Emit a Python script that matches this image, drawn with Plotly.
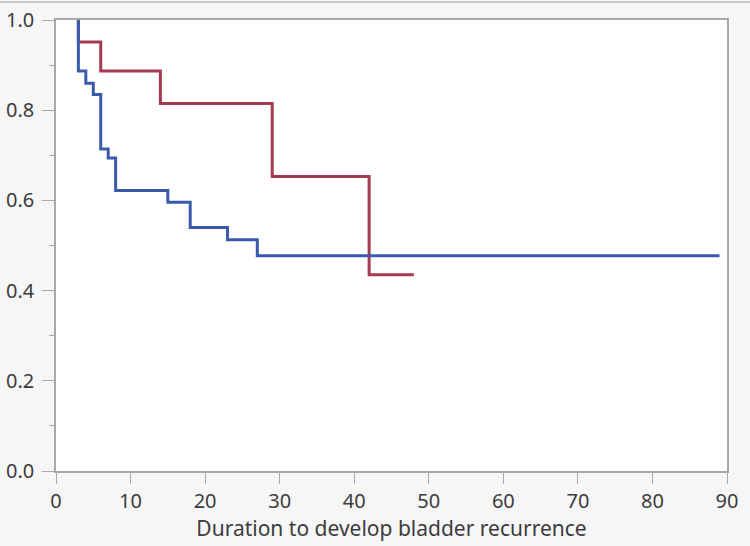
import plotly.graph_objects as go

# Kaplan-Meier step estimates
blue_time = [3, 3, 4, 5, 6, 7, 8, 15, 18, 23, 27, 89]
blue_surv = [1.0, 0.887, 0.86, 0.835, 0.714, 0.694, 0.622, 0.596, 0.54, 0.513, 0.477, 0.477]

red_time = [3, 3, 6, 14, 29, 42, 48]
red_surv = [1.0, 0.951, 0.887, 0.815, 0.653, 0.435, 0.435]

x_ticks = [0, 10, 20, 30, 40, 50, 60, 70, 80, 90]
y_ticks = [0.0, 0.2, 0.4, 0.6, 0.8, 1.0]
y_labels = ["0.0", "0.2", "0.4", "0.6", "0.8", "1.0"]

BLUE = "#3A5BAC"
RED = "#A63A50"
FRAME = "#A8A8A8"
TEXT = "#3C3C3C"
FONT = "Noto Sans, Open Sans, sans-serif"

fig = go.Figure()

# red first so the blue sits on top at t=3
fig.add_trace(go.Scatter(
    x=red_time, y=red_surv, mode="lines", line_shape="hv",
    line=dict(color=RED, width=3), showlegend=False,
))
fig.add_trace(go.Scatter(
    x=blue_time, y=blue_surv, mode="lines", line_shape="hv",
    line=dict(color=BLUE, width=3), showlegend=False,
))

# thin window line along the very top
top = 1 + 18 / 451
fig.add_shape(type="line", xref="paper", yref="paper",
              x0=-0.1, x1=1.1, y0=top, y1=top,
              line=dict(color="#C8C8C8", width=2))

fig.update_layout(
    width=750, height=546,
    margin=dict(l=56, r=23, t=20, b=75),
    paper_bgcolor="#F6F6F6",
    plot_bgcolor="white",
    font=dict(family=FONT, size=20, color=TEXT),
)

fig.update_xaxes(
    range=[0, 90], tickvals=x_ticks, ticks="outside", ticklen=11,
    tickwidth=1, tickcolor=FRAME, showgrid=False, zeroline=False,
    showline=True, linecolor=FRAME, linewidth=1.5, mirror=True,
    automargin=False, tickfont=dict(size=20, color=TEXT),
    title=dict(text="Duration to develop bladder recurrence",
               font=dict(size=21, color=TEXT), standoff=2),
)
fig.update_yaxes(
    range=[0, 1], tickvals=y_ticks, ticktext=y_labels, ticks="outside",
    ticklen=12, tickwidth=1, tickcolor=FRAME, showgrid=False,
    zeroline=False, showline=True, linecolor=FRAME, linewidth=1.5,
    mirror=True, automargin=False, tickfont=dict(size=20, color=TEXT),
    ticklabelstandoff=4,
    minor=dict(dtick=0.1, tick0=0, ticks="outside", ticklen=5,
               tickcolor=FRAME, showgrid=False),
)

fig.write_html(
    "out.html",
    config={"displayModeBar": False},
    post_script="document.body.style.margin='0';"
                "document.body.style.background='#F6F6F6';",
)
